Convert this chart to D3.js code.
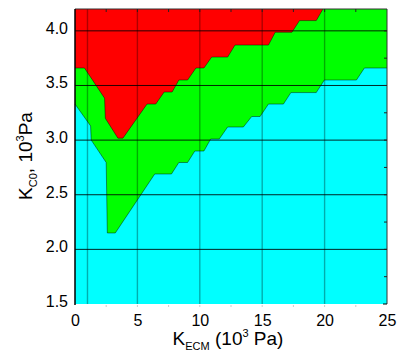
<!DOCTYPE html>
<html><head><meta charset="utf-8">
<script src="https://cdn.jsdelivr.net/npm/d3@7"></script>
<style>body{margin:0;background:#fff}svg{display:block;font-family:Arial,"Liberation Sans",sans-serif}</style>
</head><body><svg id="c" width="401" height="353"></svg>
<script>
// Red/green boundary (K_ECM, K_C0)
const upperX = [0, 0.76, 2.37, 2.43, 3.44, 3.84, 5.77, 6.47, 7.14, 7.78, 8.32, 9.02, 9.69, 10.33, 10.95, 12.23, 12.82, 15.5, 16.04, 17.38, 17.99, 19.33, 19.87];
const upperY = [3.66, 3.66, 3.384, 3.20, 3.018, 3.018, 3.33, 3.33, 3.44, 3.44, 3.55, 3.55, 3.66, 3.66, 3.76, 3.76, 3.87, 3.87, 3.987, 3.987, 4.094, 4.094, 4.2];
// Green/cyan boundary
const lowerX = [0, 1.25, 1.3, 2.5, 2.59, 3.23, 6.39, 7.73, 8.32, 9.02, 9.6, 10.33, 10.87, 11.56, 12.23, 13.49, 14.16, 14.83, 15.5, 16.7, 17.3, 19.33, 19.98, 22.55, 23.19, 25];
const lowerY = [3.33, 3.13, 3.0, 2.795, 2.15, 2.15, 2.69, 2.69, 2.795, 2.795, 2.90, 2.90, 3.01, 3.01, 3.12, 3.12, 3.216, 3.216, 3.33, 3.33, 3.435, 3.435, 3.55, 3.55, 3.66, 3.66];
const xTicks = [0, 5, 10, 15, 20, 25];
const yTicks = [1.5, 2.0, 2.5, 3.0, 3.5, 4.0];
const xGrid = [1, 5, 10, 15, 20];
const yGrid = [2.0, 2.5, 3.0, 3.5, 4.0];

const svg = d3.select("#c");
const L = 75, R = 387, T = 9, B = 304;
const x = d3.scaleLinear().domain([0, 25]).range([L, R]);
const y = d3.scaleLinear().domain([1.5, 4.2]).range([B, T]);
const upper = upperX.map((v, i) => [v, upperY[i]]);
const lower = lowerX.map((v, i) => [v, lowerY[i]]);

svg.append("rect").attr("x", x(0)).attr("y", y(4.2)).attr("width", x(25) - x(0)).attr("height", y(1.5) - y(4.2)).attr("fill", "#00ffff");
const area = d3.area().x(d => x(d[0])).y0(d => y(d[1])).y1(y(4.2));
svg.append("path").datum(lower).attr("d", area).attr("fill", "#00ff00");
svg.append("path").datum(upper).attr("d", area).attr("fill", "#ff0000");
const line = d3.line().x(d => x(d[0])).y(d => y(d[1]));
[lower, upper].forEach(b => svg.append("path").datum(b).attr("d", line).attr("fill", "none").attr("stroke", "rgba(0,0,0,0.55)").attr("stroke-width", 0.8));

// grid
svg.selectAll(".gx").data(xGrid).join("line").attr("x1", d => x(d)).attr("x2", d => x(d)).attr("y1", T).attr("y2", B)
  .attr("stroke", "rgba(0,0,0,0.32)").attr("stroke-width", 1.4);
svg.selectAll(".gy").data(yGrid).join("line").attr("x1", L).attr("x2", R).attr("y1", d => y(d)).attr("y2", d => y(d))
  .attr("stroke", "rgba(0,0,0,0.85)").attr("stroke-width", 1);

// frame
svg.append("line").attr("x1", L).attr("x2", R).attr("y1", T).attr("y2", T).attr("stroke", "#333").attr("stroke-width", 1);
svg.append("line").attr("x1", R).attr("x2", R).attr("y1", T).attr("y2", B).attr("stroke", "#333").attr("stroke-width", 1);
svg.append("line").attr("x1", L).attr("x2", L).attr("y1", T).attr("y2", B + 1).attr("stroke", "#000").attr("stroke-width", 1.5);

// inward ticks top & right
const minorX = d3.range(2.5, 25, 2.5);
svg.selectAll(".tt").data(minorX).join("line").attr("x1", d => x(d)).attr("x2", d => x(d)).attr("y1", T).attr("y2", T + 3).attr("stroke", "#222");
svg.selectAll(".bt").data(minorX).join("line").attr("x1", d => x(d)).attr("x2", d => x(d)).attr("y1", B + 1).attr("y2", B + 3).attr("stroke", "#ccc");
const minorY = d3.range(1.75, 4.2, 0.25);
svg.selectAll(".rt").data(minorY).join("line").attr("x1", R).attr("x2", R - 3).attr("y1", d => y(d)).attr("y2", d => y(d)).attr("stroke", "#222");
svg.append("line").attr("x1", R).attr("x2", R - 4).attr("y1", B).attr("y2", B).attr("stroke", "#000");

// axes via d3
const xAxis = svg.append("g").attr("transform", `translate(0,${B})`).call(d3.axisBottom(x).tickValues(xTicks).tickSize(0).tickPadding(11).tickFormat(d3.format("d")));
xAxis.select(".domain").remove();
xAxis.selectAll("text").attr("font-size", 16).attr("fill", "#000").attr("font-family", "Arial, 'Liberation Sans', sans-serif");
const yAxis = svg.append("g").attr("transform", `translate(${L},0)`).call(d3.axisLeft(y).tickValues(yTicks).tickSize(0).tickPadding(7).tickFormat(d3.format(".1f")));
yAxis.select(".domain").remove();
yAxis.selectAll("text").attr("font-size", 16).attr("fill", "#000").attr("dy", "0.15em").attr("font-family", "Arial, 'Liberation Sans', sans-serif");

// titles
const xt = svg.append("text").attr("x", 228).attr("y", 345).attr("text-anchor", "middle").attr("font-size", 19);
xt.append("tspan").text("K");
xt.append("tspan").attr("font-size", 11).attr("dy", 5).text("ECM");
xt.append("tspan").attr("dy", -5).text(" (10");
xt.append("tspan").attr("font-size", 11).attr("dy", -8).text("3");
xt.append("tspan").attr("dy", 8).text(" Pa)");

const yt = svg.append("text").attr("transform", "translate(32,156) rotate(-90)").attr("text-anchor", "middle").attr("font-size", 19);
yt.append("tspan").text("K");
yt.append("tspan").attr("font-size", 11).attr("dy", 5).text("C0");
yt.append("tspan").attr("dy", -5).text(", 10");
yt.append("tspan").attr("font-size", 11).attr("dy", -8).text("3");
yt.append("tspan").attr("dy", 8).text("Pa");
</script></body></html>
